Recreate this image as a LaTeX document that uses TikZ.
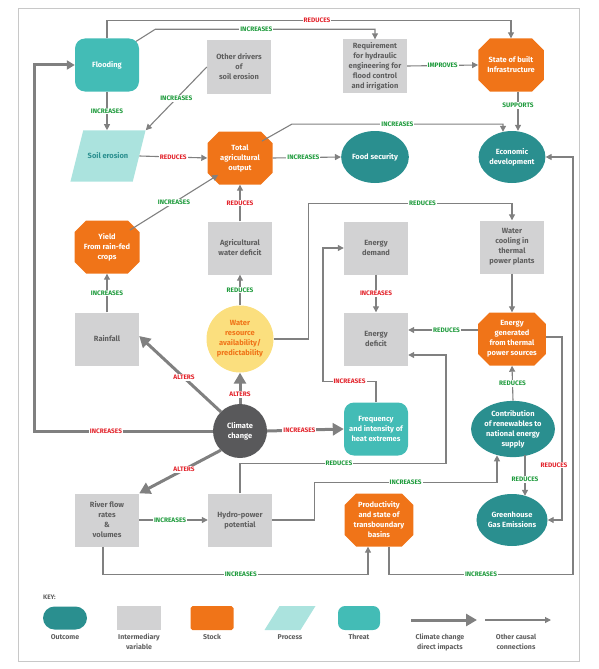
\documentclass[tikz,border=0pt]{standalone}
\usepackage{fontspec}
\setmainfont{Fira Sans}
\usepackage{tikz}
\usetikzlibrary{arrows.meta,shapes.geometric,shapes.misc,calc}

\definecolor{outteal}{RGB}{42,143,143}
\definecolor{thrteal}{RGB}{67,188,182}
\definecolor{stockor}{RGB}{240,116,24}
\definecolor{midgray}{RGB}{210,210,211}
\definecolor{procaqua}{RGB}{171,227,222}
\definecolor{wateryel}{RGB}{251,223,126}
\definecolor{ccgray}{RGB}{89,89,91}
\definecolor{linegray}{RGB}{128,128,128}
\definecolor{txtgray}{RGB}{95,95,95}
\definecolor{lblgreen}{RGB}{30,155,60}
\definecolor{lblred}{RGB}{227,35,43}
\definecolor{framegray}{RGB}{200,200,200}

\begin{document}
\begin{tikzpicture}%
  [x=1pt,y=-1pt,
   link/.style={draw=linegray,line width=1.1pt,-{Triangle[length=6pt,width=6pt]}},
   cc link/.style={draw=linegray,line width=3pt,-{Triangle[length=11pt,width=12pt]}}]
  \tikzstyle{base node}=[align=center,font=\fontsize{7.5}{10}\selectfont\bfseries,inner sep=1pt]
  \tikzstyle{out node}=[base node,ellipse,fill=outteal,text=white,minimum width=64pt,minimum height=52pt]
  \tikzstyle{mid node}=[base node,rectangle,fill=midgray,text=txtgray,minimum width=64pt,minimum height=53pt]
  \tikzstyle{stock node}=[base node,chamfered rectangle,chamfered rectangle xsep=8pt,fill=stockor,text=white,minimum width=65pt,minimum height=53pt]
  \tikzstyle{thr node}=[base node,rectangle,rounded corners=10pt,fill=thrteal,text=white,minimum width=64pt,minimum height=53pt]
  \tikzstyle{proc node}=[base node,trapezium,trapezium left angle=76,trapezium right angle=104,fill=procaqua,text=outteal,inner xsep=4.5pt,inner ysep=22.5pt]
  \tikzstyle{grn lbl}=[fill=white,inner sep=1pt,text=lblgreen,font=\fontsize{6.5}{6.5}\selectfont\bfseries]
  \tikzstyle{red lbl}=[grn lbl,text=lblred]
  \tikzstyle{key lbl}=[align=center,anchor=north,inner sep=0pt,text=txtgray,font=\fontsize{7}{10}\selectfont\bfseries]
  \useasboundingbox (0,0) rectangle (598,669);
  \draw[framegray,line width=1pt] (18,9) rectangle (579,661);
  % row 1
  \node(flood)[thr node] at (107,65) {Flooding};
  \node(other)[mid node] at (239,67) {Other drivers\\of\\soil erosion};
  \node(req)[mid node] at (375,66) {Requirement\\for hydraulic\\engineering for\\flood control\\and irrigation};
  \node(infra)[stock node] at (511,65) {State of built\\Infrastructure};
  % row 2
  \node(soil)[proc node] at (108,156) {Soil erosion};
  \node(tao)[stock node] at (240,158) {Total\\agricultural\\output};
  \node(food)[out node] at (375,157) {Food security};
  \node(econ)[out node] at (512,157) {Economic\\development};
  % row 3
  \node(yield)[stock node] at (107,247) {Yield\\From rain-fed\\crops};
  \node(awd)[mid node] at (240,248) {Agricultural\\water deficit};
  \node(demand)[mid node] at (376,248) {Energy\\demand};
  \node(cool)[mid node] at (512,247) {Water\\cooling in\\thermal\\power plants};
  % row 4
  \node(rain)[mid node] at (107,339) {Rainfall};
  \node(water)[base node,circle,fill=wateryel,text=stockor,minimum size=67pt] at (240,339) {Water\\resource\\availability/\\predictability};
  \node(deficit)[mid node] at (376,339) {Energy\\deficit};
  \node(gen)[stock node] at (512,339) {Energy\\generated\\from thermal\\power sources};
  % row 5
  \node(cc)[base node,circle,fill=ccgray,text=white,minimum size=54pt] at (240,431) {Climate\\change};
  \node(heat)[thr node] at (376,429) {Frequency\\and intensity of\\heat extremes};
  \node(contrib)[out node] at (513,429) {Contribution\\of renewables to\\national energy\\supply};
  % row 6
  \node(river)[mid node] at (107,520) {River flow\\rates\\\&\\volumes};
  \node(hydro)[mid node] at (240,520) {Hydro-power\\potential};
  \node(prod)[stock node] at (379,520) {Productivity\\and state of\\transboundary\\basins};
  \node(ghg)[out node] at (512,520) {Greenhouse\\Gas Emissions};
  % other causal connections
  \draw[link] (flood.north) -- ++(0,-18) -| node[pos=0.26,red lbl]{REDUCES} (infra.north);
  \draw[link] ($(flood.north east)+(-3,3)$) -- ++(19,-12) -| node[pos=0.23,grn lbl]{INCREASES} (req.north);
  \draw[link] (flood.south) -- node[grn lbl]{INCREASES} (flood.south |- soil.north);
  \draw[link] (other.west) -- node[grn lbl]{INCREASES} (soil.top right corner);
  \draw[link] (soil.east) -- node[red lbl]{REDUCES} (tao.west);
  \draw[link] (req.east) -- node[grn lbl]{IMPROVES} (infra.west);
  \draw[link] ($(infra.south)+(7,0)$) -- node[pos=0.35,grn lbl]{SUPPORTS} ($(econ.north)+(6,0)$);
  \draw[link] ($(tao.north east)+(-5,4)$) -- ++(30,-17) -| node[pos=0.25,grn lbl]{INCREASES} ($(econ.north)+(-9,1)$);
  \draw[link] (tao.east) -- node[pos=0.45,grn lbl]{INCREASES} (food.west);
  \draw[link] ($(yield.north east)+(-4,4)$) -- node[grn lbl]{INCREASES} ($(tao.south west)+(5,-4)$);
  \draw[link] (awd.north) -- node[red lbl]{REDUCES} (tao.south);
  \draw[link] (rain.north) -- node[grn lbl]{INCREASES} (yield.south);
  \draw[link] (water.north) -- node[grn lbl]{REDUCES} (awd.south);
  \draw[link] (water.east) -- ++(35,0) |- node[pos=0.78,grn lbl]{REDUCES} ($(cool.north)+(0,-17)$) -- (cool.north);
  \draw[link] (demand.south) -- node[red lbl]{INCREASES} (deficit.north);
  \draw[link] (cool.south) -- (gen.north);
  \draw[link] ($(gen.west)+(0,-9)$) -- node[pos=0.45,grn lbl]{REDUCES} ($(deficit.east)+(0,-9)$);
  \draw[link] (heat.north) |- node[pos=0.75,red lbl]{INCREASES} ++(-53,-21) |- (demand.west);
  \draw[link] (river.east) -- node[pos=0.45,grn lbl]{INCREASES} (hydro.west);
  \draw[link] ($(river.south)+(-4,0)$) -- ++(0,28) -| node[pos=0.26,grn lbl]{INCREASES} ($(prod.south)+(-11,0)$);
  \draw[link] (hydro.north) |- node[pos=0.74,grn lbl]{REDUCES} ++(206,-30) |- ($(deficit.east)+(0,16)$);
  \draw[link] (hydro.east) -- ++(42,0) |- node[pos=0.75,grn lbl]{INCREASES} ($(contrib.south)+(-16,25)$) -- ($(contrib.south)+(-16,-2)$);
  \draw[link] (contrib.north) -- node[grn lbl]{REDUCES} (gen.south);
  \draw[link] ($(contrib.south)+(12,-2)$) -- node[pos=0.6,grn lbl]{REDUCES} ($(ghg.north)+(13,2)$);
  \draw[link] ($(gen.east)+(0,-2)$) -- ++(16,0) |- node[pos=0.35,xshift=-8pt,red lbl]{REDUCES} (ghg.east);
  \draw[link] ($(prod.south)+(10,0)$) |- node[pos=0.75,grn lbl]{INCREASES} ++(184,28) |- (econ.east);
  % climate change direct impacts
  \draw[cc link] (cc.east) -- node[pos=0.42,red lbl]{INCREASES} (heat.west);
  \draw[cc link] (cc.north west) -- node[pos=0.45,red lbl]{ALTERS} ($(rain.east)+(0,-3)$);
  \draw[cc link] (cc.north) -- node[pos=0.3,red lbl]{ALTERS} (water.south);
  \draw[cc link] (cc.south west) -- node[pos=0.45,red lbl]{ALTERS} (river.north east);
  \draw[cc link,-{Triangle[length=8pt,width=9pt]}] (cc.west) -- node[pos=0.6,red lbl]{INCREASES} ++(-178,0) |- (flood.west);
  % key
  \node(key)[anchor=west,inner sep=0pt,text=txtgray,font=\fontsize{6.5}{8}\selectfont\bfseries] at (43,597) {KEY:};
  \node(k out)[out node,rectangle,rounded corners=11.5pt,minimum width=44pt,minimum height=23pt] at (65,618) {};
  \node(k mid)[mid node,minimum width=44pt,minimum height=24pt] at (139,618) {};
  \node(k stock)[stock node,chamfered rectangle xsep=4pt,minimum width=43pt,minimum height=24pt] at (212,618) {};
  \node(k proc)[proc node,trapezium left angle=58,trapezium right angle=122,inner xsep=10.5pt,inner ysep=12pt] at (290,618) {};
  \node(k thr)[thr node,rounded corners=7pt,minimum width=42pt,minimum height=24pt] at (359,618) {};
  \coordinate(k cc a) at (411,620);
  \coordinate(k cc b) at (477,620);
  \coordinate(k ln a) at (485,620);
  \coordinate(k ln b) at (551,620);
  \draw[cc link] (k cc a) -- (k cc b);
  \draw[link] (k ln a) -- (k ln b);
  \node(t out)[key lbl] at (k out.south |- 0,634) {Outcome};
  \node(t mid)[key lbl] at (k mid.south |- 0,634) {Intermediary\\variable};
  \node(t stock)[key lbl] at (k stock.south |- 0,634) {Stock};
  \node(t proc)[key lbl] at (290,634) {Process};
  \node(t thr)[key lbl] at (k thr.south |- 0,634) {Threat};
  \node(t cc)[key lbl] at (440,634) {Climate change\\direct impacts};
  \node(t ln)[key lbl] at (516,634) {Other causal\\connections};
\end{tikzpicture}
\end{document}
